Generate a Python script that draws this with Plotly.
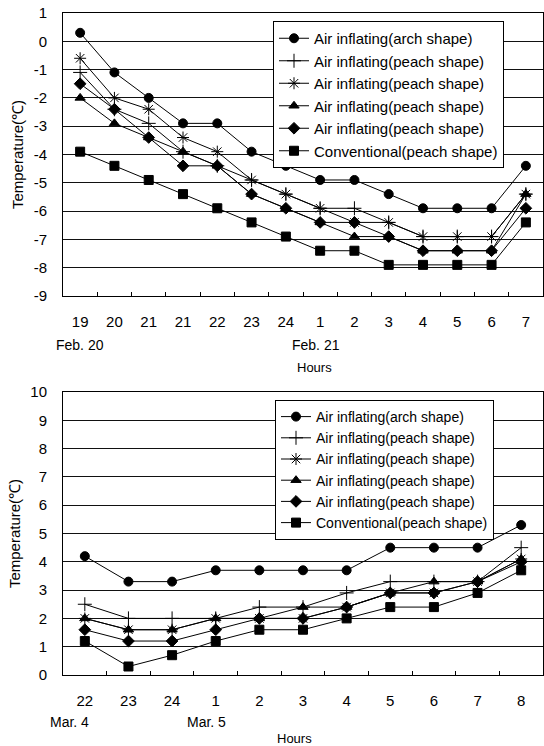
import plotly.graph_objects as go

# ---------------- data ----------------
series_names = [
    "Air inflating(arch shape)",
    "Air inflating(peach shape)",
    "Air inflating(peach shape)",
    "Air inflating(peach shape)",
    "Air inflating(peach shape)",
    "Conventional(peach shape)",
]

hours_top = ["19", "20", "21", "21", "22", "23", "24", "1", "2", "3", "4", "5", "6", "7"]
top_arch = [0.3, -1.1, -2.0, -2.9, -2.9, -3.9, -4.4, -4.9, -4.9, -5.4, -5.9, -5.9, -5.9, -4.4]
top_plus = [-1.1, -2.4, -2.9, -3.9, -4.4, -4.9, -5.4, -5.9, -5.9, -6.4, -6.9, -6.9, -6.9, -5.4]
top_star = [-0.6, -2.0, -2.4, -3.4, -3.9, -4.9, -5.4, -5.9, -6.4, -6.4, -6.9, -6.9, -6.9, -5.4]
top_tri = [-2.0, -2.9, -3.4, -3.9, -4.4, -5.4, -5.9, -6.4, -6.9, -6.9, -7.4, -7.4, -7.4, -5.4]
top_dia = [-1.5, -2.4, -3.4, -4.4, -4.4, -5.4, -5.9, -6.4, -6.4, -6.9, -7.4, -7.4, -7.4, -5.9]
top_conv = [-3.9, -4.4, -4.9, -5.4, -5.9, -6.4, -6.9, -7.4, -7.4, -7.9, -7.9, -7.9, -7.9, -6.4]
top_yticks = [1, 0, -1, -2, -3, -4, -5, -6, -7, -8, -9]
top_ytext = ["1", "0", "-1", "-2", "-3", "-4", "-5", "-6", "-7", "-8", "-9"]

hours_bot = ["22", "23", "24", "1", "2", "3", "4", "5", "6", "7", "8"]
bot_arch = [4.2, 3.3, 3.3, 3.7, 3.7, 3.7, 3.7, 4.5, 4.5, 4.5, 5.3]
bot_plus = [2.5, 2.0, 2.0, 2.0, 2.4, 2.4, 2.9, 3.3, 3.3, 3.3, 4.5]
bot_star = [2.0, 1.6, 1.6, 2.0, 2.0, 2.0, 2.4, 2.9, 2.9, 3.3, 4.1]
bot_tri = [2.0, 1.6, 1.6, 2.0, 2.0, 2.4, 2.4, 2.9, 3.3, 3.3, 4.1]
bot_dia = [1.6, 1.2, 1.2, 1.6, 2.0, 2.0, 2.4, 2.9, 2.9, 3.3, 4.0]
bot_conv = [1.2, 0.3, 0.7, 1.2, 1.6, 1.6, 2.0, 2.4, 2.4, 2.9, 3.7]
bot_yticks = [0, 1, 2, 3, 4, 5, 6, 7, 8, 9, 10]
bot_ytext = ["0", "1", "2", "3", "4", "5", "6", "7", "8", "9", "10"]

# ---------------- style ----------------
W, H = 544, 746
FONT = "Liberation Sans"
symbols = ["circle", "cross-thin-open", "asterisk-open", "triangle-up", "diamond", "square"]
sizes = [9, 10, 10, 9, 9, 9]

fig = go.Figure()


def add_series(xs, ys_list, xaxis, yaxis, legend):
    for name, ys, sym, sz in zip(series_names, ys_list, symbols, sizes):
        fig.add_trace(go.Scatter(
            x=xs, y=ys, name=name, mode="lines+markers",
            xaxis=xaxis, yaxis=yaxis, legend=legend,
            line=dict(color="black", width=1),
            marker=dict(symbol=sym, size=sz, color="black",
                        line=dict(color="black", width=1)),
        ))


xt = list(range(len(hours_top)))
xb = list(range(len(hours_bot)))
add_series(xt, [top_arch, top_plus, top_star, top_tri, top_dia, top_conv], "x", "y", "legend")
add_series(xb, [bot_arch, bot_plus, bot_star, bot_tri, bot_dia, bot_conv], "x2", "y2", "legend2")


def px_x(p):
    return p / W


def px_y(p):
    return 1 - p / H


xdom = [px_x(63), px_x(543)]
top_dom = [px_y(296), px_y(13)]
bot_dom = [px_y(675), px_y(392)]

tickfont = dict(family=FONT, size=15, color="black")


def xaxis_cfg(n, labels, dom, anchor):
    return dict(
        domain=dom, anchor=anchor, range=[-0.5, n - 0.5],
        tickmode="array", tickvals=list(range(n)), ticktext=labels,
        ticks="", showgrid=False, zeroline=False, automargin=False,
        showline=True, linecolor="black", linewidth=1, mirror=True,
        tickfont=tickfont, ticklabelstandoff=12,
        minor=dict(tickmode="array", tickvals=[i + 0.5 for i in range(n - 1)],
                   ticks="inside", ticklen=4, tickcolor="black", tickwidth=1,
                   showgrid=False),
    )


def yaxis_cfg(rng, vals, text, dom, anchor):
    return dict(
        domain=dom, anchor=anchor, range=rng, automargin=False,
        tickmode="array", tickvals=vals, ticktext=text,
        ticks="", showgrid=True, gridcolor="#111", gridwidth=1, zeroline=False,
        showline=True, linecolor="black", linewidth=1, mirror=True,
        tickfont=tickfont, ticklabelstandoff=12,
        title=dict(text="Temperature(℃)", font=dict(family=FONT, size=15, color="black"),
                   standoff=6),
    )


legend_common = dict(
    bgcolor="white", bordercolor="black", borderwidth=1,
    itemwidth=30, xanchor="left", yanchor="top", tracegroupgap=0,
)

fig.update_layout(
    width=W, height=H,
    margin=dict(l=0, r=0, t=0, b=0, autoexpand=False),
    paper_bgcolor="white", plot_bgcolor="white",
    showlegend=True,
    xaxis=xaxis_cfg(len(hours_top), hours_top, xdom, "y"),
    yaxis=yaxis_cfg([-9, 1], top_yticks, top_ytext, top_dom, "x"),
    xaxis2=xaxis_cfg(len(hours_bot), hours_bot, xdom, "y2"),
    yaxis2=yaxis_cfg([0, 10], bot_yticks, bot_ytext, bot_dom, "x2"),
    legend=dict(x=px_x(273), y=px_y(21),
                font=dict(family=FONT, size=15, color="black"), **legend_common),
    legend2=dict(x=px_x(275), y=px_y(400),
                 font=dict(family=FONT, size=14, color="black"), **legend_common),
)

afont = dict(family=FONT, size=14, color="black")
annots = [
    ("Feb. 20", 80, 345), ("Feb. 21", 316, 345), ("Hours", 314, 367),
    ("Mar. 4", 69, 722), ("Mar. 5", 206, 722), ("Hours", 294, 738),
]
for text, ax, ay in annots:
    fig.add_annotation(text=text, x=px_x(ax), y=px_y(ay), xref="paper", yref="paper",
                       showarrow=False, xanchor="center", yanchor="middle",
                       font=dict(afont, size=13) if text == "Hours" else afont)

fig.write_html(
    "out.html",
    config={"displayModeBar": False},
    post_script="document.body.style.margin='0';document.body.style.overflow='hidden';",
)
